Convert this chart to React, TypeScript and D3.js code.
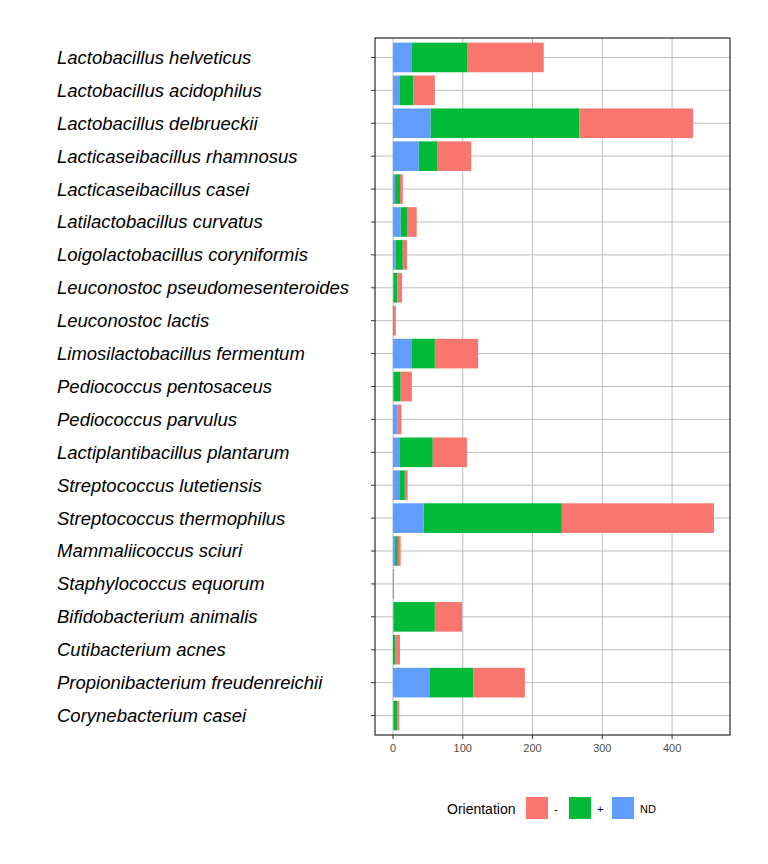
import React from "react";
import * as d3 from "d3";

const species = [
  "Lactobacillus helveticus", "Lactobacillus acidophilus", "Lactobacillus delbrueckii",
  "Lacticaseibacillus rhamnosus", "Lacticaseibacillus casei", "Latilactobacillus curvatus",
  "Loigolactobacillus coryniformis", "Leuconostoc pseudomesenteroides", "Leuconostoc lactis",
  "Limosilactobacillus fermentum", "Pediococcus pentosaceus", "Pediococcus parvulus",
  "Lactiplantibacillus plantarum", "Streptococcus lutetiensis", "Streptococcus thermophilus",
  "Mammaliicoccus sciuri", "Staphylococcus equorum", "Bifidobacterium animalis",
  "Cutibacterium acnes", "Propionibacterium freudenreichii", "Corynebacterium casei",
];
const ndValues = [27, 10, 54, 37, 3, 11, 4, 1, 0, 27, 1, 6, 10, 9, 44, 3, 0, 1, 0, 53, 1];
const plusValues = [80, 19, 213, 27, 7, 9, 10, 5, 1, 33, 10, 0, 47, 8, 198, 4, 1, 59, 3, 62, 5];
const minusValues = [109, 31, 163, 48, 4, 14, 6, 7, 3, 62, 16, 6, 49, 4, 218, 4, 0, 39, 7, 74, 3];
const xTicks = [0, 100, 200, 300, 400];
const legendKeys = ["-", "+", "ND"];
const colors: Record<string, string> = { "-": "#F8766D", "+": "#00BA38", ND: "#619CFF" };

export default function App() {
  const left = 375, right = 730, top = 38, bottom = 735;
  const x = d3.scaleLinear().domain([-25.8, 483]).range([left, right]);
  const y = d3.scaleBand().domain(species).range([top + 3, bottom - 3]).paddingInner(0.1).paddingOuter(0.05);
  const font = "Liberation Sans, Arial, sans-serif";
  return (
    <svg width={768} height={864} style={{ position: "absolute", left: 0, top: 0 }} fontFamily={font}>
      <rect width={768} height={864} fill="white" />
      {xTicks.map((t) => (
        <line key={"g" + t} x1={x(t)} x2={x(t)} y1={top} y2={bottom} stroke="#bdbdbd" />
      ))}
      {[50, 150, 250, 350, 450].map((t) => null)}
      {species.map((s) => (
        <line key={"h" + s} x1={left} x2={right} y1={y(s)! + y.bandwidth() / 2} y2={y(s)! + y.bandwidth() / 2} stroke="#bdbdbd" />
      ))}
      {species.map((s, i) => {
        const segs = [
          { k: "ND", a: 0, b: ndValues[i] },
          { k: "+", a: ndValues[i], b: ndValues[i] + plusValues[i] },
          { k: "-", a: ndValues[i] + plusValues[i], b: ndValues[i] + plusValues[i] + minusValues[i] },
        ];
        return segs.filter((g) => g.b > g.a).map((g) => (
          <rect key={s + g.k} x={x(g.a)} width={x(g.b) - x(g.a)} y={y(s)} height={y.bandwidth()} fill={colors[g.k]} />
        ));
      })}
      <rect x={left} y={top} width={right - left} height={bottom - top} fill="none" stroke="black" strokeWidth={1} />
      {species.map((s) => {
        const cy = y(s)! + y.bandwidth() / 2;
        return (
          <g key={"l" + s}>
            <line x1={left - 4} x2={left} y1={cy} y2={cy} stroke="#333" />
            <text x={57} y={cy} dy="0.35em" fontSize={18.5} fontStyle="italic" fill="black">{s}</text>
          </g>
        );
      })}
      {xTicks.map((t) => (
        <g key={"t" + t}>
          <line x1={x(t)} x2={x(t)} y1={bottom} y2={bottom + 4} stroke="#333" />
          <text x={x(t)} y={bottom + 17} textAnchor="middle" fontSize={11} fill="#4d4d4d">{t}</text>
        </g>
      ))}
      <text x={447} y={814} fontSize={14} fill="black">Orientation</text>
      {legendKeys.map((k, i) => (
        <g key={"k" + k}>
          <rect x={526 + i * 43} y={797} width={22} height={22} fill={colors[k]} />
          <text x={554 + i * 43} y={813} fontSize={11} fill="black">{k}</text>
        </g>
      ))}
    </svg>
  );
}
